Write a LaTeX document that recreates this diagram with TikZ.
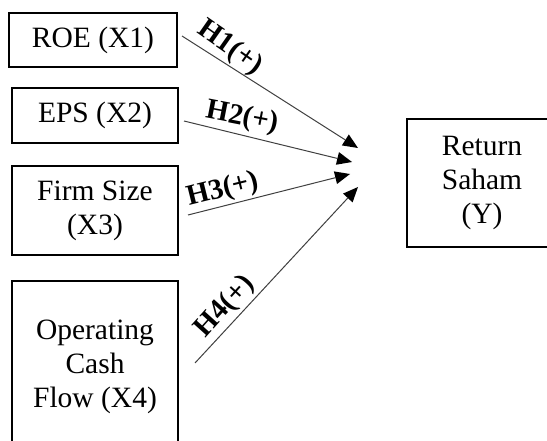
\documentclass[tikz,border=0pt]{standalone}
\usepackage{fontspec}
\setmainfont{Liberation Serif}
\usetikzlibrary{arrows.meta}
\begin{document}
\begin{tikzpicture}[x=1pt,y=-1pt,
  box/.style={draw=black,line width=1.8pt,inner sep=0pt,align=center,
    font=\fontsize{29.5}{34}\selectfont},
  link/.style={draw=black!75,line width=1pt,-{Triangle[length=15pt,width=13pt,fill=black,line width=0pt]}},
  hyp/.style={font=\fontsize{29}{34}\selectfont\bfseries,inner sep=0pt}]
\useasboundingbox (0,0) rectangle (547,441);
\clip (0,0) rectangle (547,441);
\fill[white] (0,0) rectangle (547,441);
\node[box,minimum width=168pt,minimum height=54pt] (roe) at (93,40) {ROE (X1)};
\node[box,minimum width=166pt,minimum height=55pt] (eps) at (95,115.5) {EPS (X2)};
\node[box,minimum width=166pt,minimum height=89pt] (firm) at (95,210.5) {Firm Size\\(X3)};
\node[box,minimum width=166pt,minimum height=172pt] (ocf) at (95,367) {Operating\\Cash\\Flow (X4)};
\node[box,minimum width=150pt,minimum height=128pt] (ret) at (482,183) {Return\\Saham\\(Y)};
\coordinate (s1) at (182,36);
\coordinate (s2) at (184,121);
\coordinate (s3) at (188,215);
\coordinate (s4) at (195,363);
\coordinate (t1) at (358,148);
\coordinate (t2) at (352,162);
\coordinate (t3) at (350,174);
\coordinate (t4) at (358,187);
\draw[link] (s1) -- (t1);
\draw[link] (s2) -- (t2);
\draw[link] (s3) -- (t3);
\draw[link] (s4) -- (t4);
\node[hyp,rotate=-35] (h1) at (230,48) {H1(+)};
\node[hyp,rotate=-11] (h2) at (242,118) {H2(+)};
\node[hyp,rotate=14] (h3) at (223,190) {H3(+)};
\node[hyp,rotate=48] (h4) at (225,307) {H4(+)};
\end{tikzpicture}
\end{document}
